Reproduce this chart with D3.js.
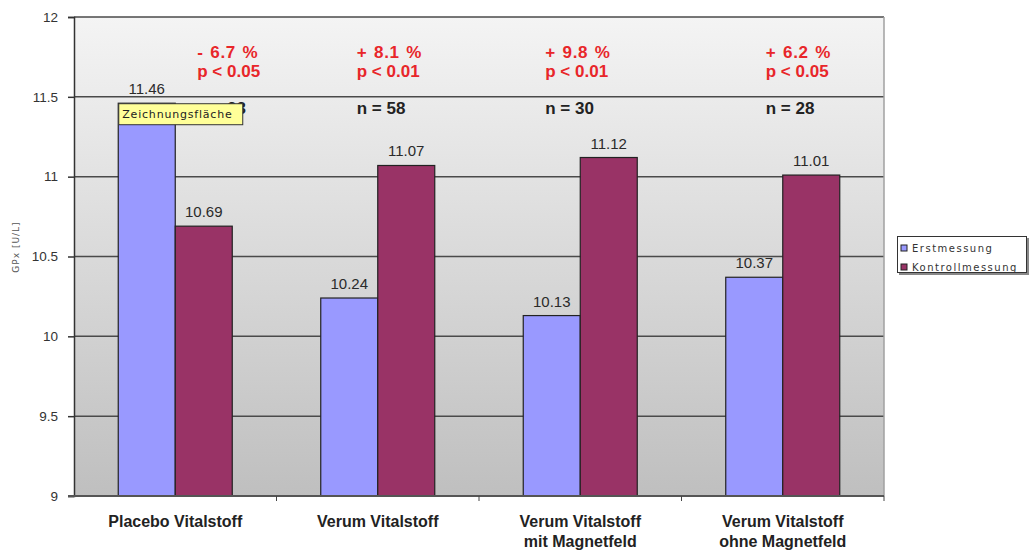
<!DOCTYPE html>
<html>
<head>
<meta charset="utf-8">
<script src="https://cdn.jsdelivr.net/npm/d3@7"></script>
<style>
  html, body { margin: 0; padding: 0; background: #fff; }
  svg { display: block; font-family: Arial, "Liberation Sans", sans-serif; }
</style>
</head>
<body>
<svg id="chart" width="1029" height="551"></svg>
<script>
// Glutathione peroxidase (GPx) measurements per study group
const categories = [
  ["Placebo Vitalstoff"],
  ["Verum Vitalstoff"],
  ["Verum Vitalstoff", "mit Magnetfeld"],
  ["Verum Vitalstoff", "ohne Magnetfeld"]
];
const seriesNames = ["Erstmessung", "Kontrollmessung"];
const erstmessung = [11.46, 10.24, 10.13, 10.37];
const kontrollmessung = [10.69, 11.07, 11.12, 11.01];
const changeLabels = ["- 6.7 %", "+ 8.1 %", "+ 9.8 %", "+ 6.2 %"];
const pLabels = ["p < 0.05", "p < 0.01", "p < 0.01", "p < 0.05"];
const nLabels = ["n = 23", "n = 58", "n = 30", "n = 28"];
const yTicks = [9, 9.5, 10, 10.5, 11, 11.5, 12];

const colors = ["#9999ff", "#993366"];
const smallFont = "'DejaVu Sans', Verdana, sans-serif";
const svg = d3.select("#chart");

const plot = { left: 74, right: 884, top: 17, bottom: 496 };

const keys = categories.map(c => c.join(" "));
const x0 = d3.scaleBand().domain(keys).range([plot.left, plot.right])
  .paddingInner(0.437).paddingOuter(0.2185);
const x1 = d3.scaleBand().domain(seriesNames).range([0, x0.bandwidth()]);
const y = d3.scaleLinear().domain([9, 12]).range([plot.bottom, plot.top]);

// plot area background: light grey fading to darker grey
const defs = svg.append("defs");
const grad = defs.append("linearGradient").attr("id", "bg")
  .attr("x1", 0).attr("y1", 0).attr("x2", 0).attr("y2", 1);
grad.append("stop").attr("offset", "0%").attr("stop-color", "#f4f4f4");
grad.append("stop").attr("offset", "100%").attr("stop-color", "#bfbfbf");

svg.append("rect")
  .attr("x", plot.left).attr("y", plot.top)
  .attr("width", plot.right - plot.left).attr("height", plot.bottom - plot.top)
  .attr("fill", "url(#bg)");

// horizontal gridlines
svg.append("g").selectAll("line")
  .data(yTicks.filter(t => t > 9))
  .join("line")
  .attr("x1", plot.left).attr("x2", plot.right)
  .attr("y1", d => y(d)).attr("y2", d => y(d))
  .attr("stroke", "#4a4a4a").attr("stroke-width", 1.5);

// right frame edge
svg.append("line")
  .attr("x1", plot.right).attr("x2", plot.right)
  .attr("y1", plot.top).attr("y2", plot.bottom)
  .attr("stroke", "#a0a0a0").attr("stroke-width", 1.5);

// bars
const rows = keys.map((k, i) => ({ key: k, values: [erstmessung[i], kontrollmessung[i]] }));
const groups = svg.append("g").selectAll("g")
  .data(rows).join("g")
  .attr("transform", d => `translate(${x0(d.key)},0)`);

groups.selectAll("rect")
  .data(d => d.values.map((v, j) => ({ name: seriesNames[j], value: v, j })))
  .join("rect")
  .attr("x", d => x1(d.name))
  .attr("y", d => y(d.value))
  .attr("width", x1.bandwidth())
  .attr("height", d => y(9) - y(d.value))
  .attr("fill", d => colors[d.j])
  .attr("stroke", "#222")
  .attr("stroke-width", 1.2);

groups.selectAll("text.val")
  .data(d => d.values.map((v, j) => ({ name: seriesNames[j], value: v })))
  .join("text")
  .attr("class", "val")
  .attr("x", d => x1(d.name) + x1.bandwidth() / 2)
  .attr("y", d => y(d.value) - 9)
  .attr("text-anchor", "middle")
  .attr("font-size", 15)
  .attr("fill", "#2a2a2a")
  .text(d => d.value.toFixed(2));

// y axis
const yAxis = d3.axisLeft(y).tickValues(yTicks).tickSize(6).tickPadding(10)
  .tickFormat(d => String(d));
const ya = svg.append("g").attr("transform", `translate(${plot.left},0)`).call(yAxis);
ya.select(".domain").attr("stroke", "#333").attr("stroke-width", 1.5);
ya.selectAll(".tick line").attr("stroke", "#333").attr("stroke-width", 1.5);
ya.selectAll(".tick text").attr("font-size", 13.5).attr("fill", "#333")
  .attr("font-family", "Arial, 'Liberation Sans', sans-serif");

// x axis baseline with category separator ticks
svg.append("line")
  .attr("x1", plot.left - 6).attr("x2", plot.right)
  .attr("y1", plot.bottom).attr("y2", plot.bottom)
  .attr("stroke", "#555").attr("stroke-width", 2);
const step = x0.step();
svg.append("g").selectAll("line")
  .data(d3.range(1, keys.length + 1))
  .join("line")
  .attr("x1", i => plot.left + i * step).attr("x2", i => plot.left + i * step)
  .attr("y1", plot.bottom).attr("y2", plot.bottom + 5)
  .attr("stroke", "#444").attr("stroke-width", 1);

// category labels
svg.append("g").selectAll("text")
  .data(categories)
  .join("text")
  .attr("x", (d, i) => x0(keys[i]) + x0.bandwidth() / 2)
  .attr("y", 527)
  .attr("text-anchor", "middle")
  .attr("font-size", 16)
  .attr("font-weight", "bold")
  .attr("fill", "#222")
  .each(function (d) {
    d3.select(this).selectAll("tspan").data(d).join("tspan")
      .attr("x", d3.select(this).attr("x"))
      .attr("dy", (t, k) => k === 0 ? 0 : 20)
      .text(t => t);
  });

// y axis title
svg.append("text")
  .attr("transform", "translate(19,247) rotate(-90)")
  .attr("text-anchor", "middle")
  .attr("font-family", smallFont)
  .attr("font-size", 9)
  .attr("letter-spacing", 1)
  .attr("fill", "#555")
  .text("GPx [U/L]");

// significance annotations, placed relative to each group's centre
const annotOffset = [22, -21, -35, -17];
const annot = svg.append("g");
keys.forEach((k, i) => {
  const ax = x0(k) + x0.bandwidth() / 2 + annotOffset[i];
  annot.append("text").attr("x", ax).attr("y", 58)
    .attr("font-size", 17).attr("font-weight", "bold").attr("fill", "#e8262a")
    .attr("letter-spacing", 0.6).attr("word-spacing", 1.5)
    .text(changeLabels[i]);
  annot.append("text").attr("x", ax).attr("y", 77)
    .attr("font-size", 17).attr("font-weight", "bold").attr("fill", "#e8262a")
    .text(pLabels[i]);
  annot.append("text").attr("x", ax).attr("y", 114)
    .attr("font-size", 17).attr("font-weight", "bold").attr("fill", "#222")
    .text(nLabels[i]);
});

// hover tooltip showing the plot area name
const tipX = x0(keys[0]);
const tip = svg.append("g").attr("transform", `translate(${tipX},${y(11.46)})`);
tip.append("rect").attr("x", 0.5).attr("y", 0.5).attr("width", 124).attr("height", 21)
  .attr("fill", "#ffff99").attr("stroke", "#333").attr("stroke-width", 1);
tip.append("text").attr("x", 4).attr("y", 15).attr("font-size", 11)
  .attr("font-family", smallFont).attr("letter-spacing", 0.8).attr("fill", "#222")
  .text("Zeichnungsfläche");

// legend
const lg = svg.append("g").attr("transform", "translate(897,236)");
lg.append("rect").attr("x", 2).attr("y", 2).attr("width", 130).attr("height", 37).attr("fill", "#888");
lg.append("rect").attr("x", 0.5).attr("y", 0.5).attr("width", 129).attr("height", 36)
  .attr("fill", "#fff").attr("stroke", "#333").attr("stroke-width", 1);
seriesNames.forEach((s, i) => {
  const row = lg.append("g").attr("transform", `translate(4,${12 + i * 19})`);
  row.append("rect").attr("x", 0).attr("y", -3).attr("width", 6).attr("height", 6)
    .attr("fill", colors[i]).attr("stroke", "#222").attr("stroke-width", 1);
  row.append("text").attr("x", 11).attr("y", 4).attr("font-size", 10)
    .attr("font-family", smallFont).attr("letter-spacing", 1.5).attr("fill", "#333")
    .text(s);
});
</script>
</body>
</html>
